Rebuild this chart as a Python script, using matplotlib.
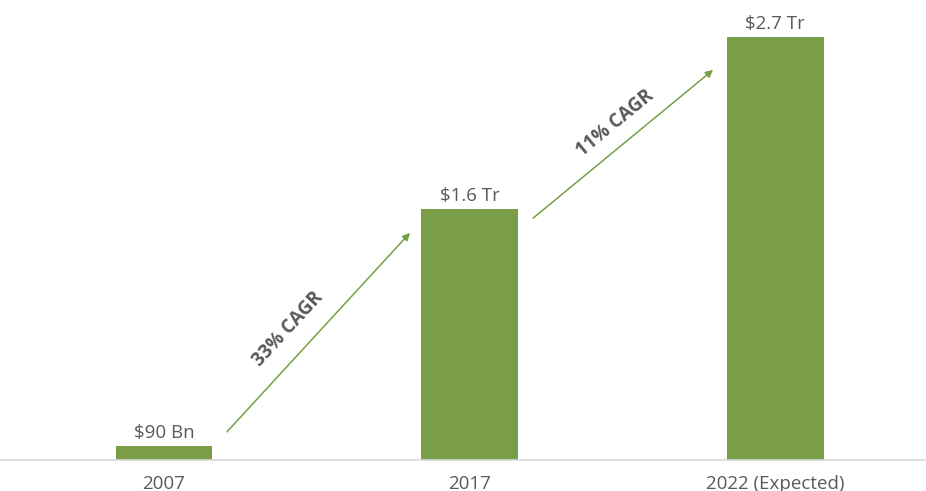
import matplotlib
matplotlib.use("Agg")
import matplotlib.pyplot as plt

plt.rcParams['font.family'] = ['Open Sans', 'DejaVu Sans']

years = ["2007", "2017", "2022 (Expected)"]
values = [0.09, 1.6, 2.7]  # trillions of dollars
value_labels = ["$90 Bn", "$1.6 Tr", "$2.7 Tr"]
cagr_labels = ["33% CAGR", "11% CAGR"]

bar_color = "#7A9D48"
arrow_color = "#74A143"
text_color = "#595959"

fig = plt.figure(figsize=(9.26, 4.91), dpi=100)
ax = fig.add_axes([0, 0.0631, 1, 0.9369])

x = range(len(years))
bars = ax.bar(x, values, width=0.317, color=bar_color)

for xi, v, lab in zip(x, values, value_labels):
    ax.annotate(lab, (xi, v), xytext=(0, 3), textcoords="offset points",
                ha="center", va="bottom", fontsize=13.5, color=text_color)

# growth arrows between bars (start/end relative to bar tops)
arrow_specs = [
    # (x0, y0, x1, y1, text offset in points, rotation)
    (0.206, values[0] + 0.09, 0.805, values[1] - 0.15, (-22, 2), 47.4),
    (1.208, values[1] - 0.056, 1.797, values[2] - 0.21, (-6, 15), 39.4),
]
for (x0, y0, x1, y1, off, rot), lab in zip(arrow_specs, cagr_labels):
    ax.annotate("", xy=(x1, y1), xytext=(x0, y0),
                arrowprops=dict(arrowstyle="-|>", color=arrow_color, lw=1.1,
                                mutation_scale=11, shrinkA=0, shrinkB=0))
    ax.annotate(lab, ((x0 + x1) / 2, (y0 + y1) / 2), xytext=off,
                textcoords="offset points", ha="center", va="center",
                rotation=rot, rotation_mode="anchor", fontsize=13.5,
                fontweight="bold", color=text_color)

ax.set_xlim(-0.537, 2.494)
ax.set_ylim(0, 2.936)
ax.set_xticks(list(x))
ax.set_xticklabels(years, fontsize=13.5, color=text_color)
ax.tick_params(axis="x", length=0, pad=10.5)
ax.set_yticks([])
for s in ["top", "right", "left"]:
    ax.spines[s].set_visible(False)
ax.spines["bottom"].set_color("#D9D9D9")
ax.spines["bottom"].set_linewidth(1.2)

fig.savefig("out.png", dpi=100)
